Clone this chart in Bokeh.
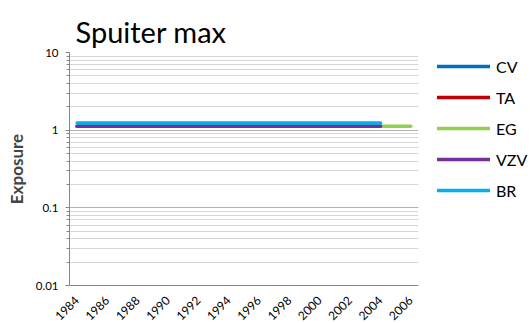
from math import pi, nan

from bokeh.plotting import figure
from bokeh.models import (Range1d, FixedTicker, CustomJSTickFormatter, Legend,
                          LegendItem, ColumnDataSource)
from bokeh.embed import file_html
from bokeh.resources import INLINE

# Yearly exposure per site (log scale)
years = [1984, 1985, 1986, 1987, 1988, 1989, 1990, 1991, 1992, 1993, 1994, 1995,
         1996, 1997, 1998, 1999, 2000, 2001, 2002, 2003, 2004, 2005, 2006]
cv = [1.12, 1.12, 1.12, 1.12, 1.12, 1.12, 1.12, 1.12, 1.12, 1.12, 1.12, 1.12,
      1.12, 1.12, 1.12, 1.12, 1.12, 1.12, 1.12, 1.12, 1.12, nan, nan]
ta = [1.12, 1.12, 1.12, 1.12, 1.12, 1.12, 1.12, 1.12, 1.12, 1.12, 1.12, 1.12,
      1.12, 1.12, 1.12, 1.12, 1.12, 1.12, 1.12, 1.12, 1.12, nan, nan]
eg = [1.12, 1.12, 1.12, 1.12, 1.12, 1.12, 1.12, 1.12, 1.12, 1.12, 1.12, 1.12,
      1.12, 1.12, 1.12, 1.12, 1.12, 1.12, 1.12, 1.12, 1.12, 1.12, 1.12]
vzv = [1.12, 1.12, 1.12, 1.12, 1.12, 1.12, 1.12, 1.12, 1.12, 1.12, 1.12, 1.12,
       1.12, 1.12, 1.12, 1.12, 1.12, 1.12, 1.12, 1.12, 1.12, nan, nan]
br = [1.24, 1.24, 1.24, 1.24, 1.24, 1.24, 1.24, 1.24, 1.24, 1.24, 1.24, 1.24,
      1.24, 1.24, 1.24, 1.24, 1.24, 1.24, 1.24, 1.24, 1.24, nan, nan]

series_names = ["CV", "TA", "EG", "VZV", "BR"]
series_values = [cv, ta, eg, vzv, br]
series_colors = ["#0070C0", "#C00000", "#92D050", "#7030A0", "#00B0F0"]

year_ticks = [1984, 1986, 1988, 1990, 1992, 1994, 1996, 1998, 2000, 2002, 2004, 2006]
major_y = [0.01, 0.1, 1, 10]
minor_y = [m * d for d in (0.01, 0.1, 1) for m in range(2, 10)]

FONT = "Lato"

p = figure(frame_width=349, frame_height=233, y_axis_type="log",
           output_backend="svg", toolbar_location=None,
           x_range=Range1d(1983.5, 2006.5), y_range=Range1d(0.01, 10),
           min_border_left=69, min_border_right=112,
           min_border_top=52, min_border_bottom=38)
p.outline_line_color = None
p.background_fill_color = "white"
p.border_fill_color = "white"

p.title.text = "Spuiter max"
p.title.text_font = FONT
p.title.text_font_size = "29px"
p.title.text_font_style = "normal"
p.title.text_color = "#000000"
p.title.align = "left"
p.title.offset = 6
p.title.standoff = 8

renderers = []
for name, vals, col in zip(series_names, series_values, series_colors):
    src = ColumnDataSource(data=dict(x=years, y=vals))
    r = p.line("x", "y", source=src, line_color=col, line_width=3.5,
               line_cap="round")
    renderers.append((name, r))

# y axis
yax = p.yaxis[0]
yax.ticker = FixedTicker(ticks=major_y, minor_ticks=minor_y)
yax.formatter = CustomJSTickFormatter(code="return tick.toString()")
yax.axis_label = "Exposure"
yax.axis_label_text_font = FONT
yax.axis_label_text_font_size = "17px"
yax.axis_label_text_font_style = "bold"
yax.axis_label_standoff = 6
yax.major_label_text_font = FONT
yax.major_label_text_font_size = "11.5px"
yax.major_label_text_color = "#000000"
yax.axis_line_color = "#868686"
yax.major_tick_line_color = "#868686"
yax.minor_tick_line_color = "#868686"
yax.major_tick_out = 4
yax.major_tick_in = 0
yax.minor_tick_out = 3
yax.minor_tick_in = 0
yax.major_label_standoff = 7

# x axis
xax = p.xaxis[0]
xax.ticker = FixedTicker(ticks=year_ticks, minor_ticks=[])
xax.major_label_orientation = pi / 4
xax.major_label_text_font = FONT
xax.major_label_text_font_size = "12px"
xax.major_label_text_color = "#000000"
xax.major_label_text_line_height = 0.6
xax.axis_line_color = "#868686"
xax.major_tick_line_color = None
xax.minor_tick_line_color = None
xax.major_tick_out = 0
xax.major_tick_in = 0
xax.minor_tick_out = 0
xax.major_label_standoff = 13

# grids
p.xgrid.grid_line_color = None
p.ygrid.grid_line_color = "#b3b3b3"
p.ygrid.minor_grid_line_color = "#d6d6d6"

legend = Legend(items=[LegendItem(label=n, renderers=[r]) for n, r in renderers],
                location=(19, 85), orientation="vertical",
                glyph_width=53, glyph_height=20, label_height=20,
                spacing=11, padding=0, margin=0, label_standoff=6,
                border_line_color=None, background_fill_alpha=0,
                label_text_font=FONT, label_text_font_size="16px",
                label_text_color="#000000")
p.add_layout(legend, "right")

open("out.html", "w").write(file_html(p, INLINE))
